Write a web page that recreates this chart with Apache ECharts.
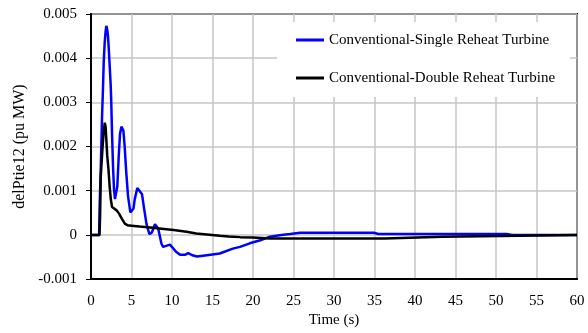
<!DOCTYPE html>
<html>
<head>
<meta charset="utf-8">
<script src="https://cdn.jsdelivr.net/npm/echarts@6/dist/echarts.min.js"></script>
<style>
  html, body { margin: 0; padding: 0; background: #fff; }
  #chart { width: 588px; height: 333px; }
</style>
</head>
<body>
<div id="chart"></div>
<script>
// Tie-line power deviation after a load step, two turbine models
var seriesNames = ['Conventional-Single Reheat Turbine', 'Conventional-Double Reheat Turbine'];

// Single reheat turbine: time (s) and delPtie12 (pu MW)
var singleTime = [0, 1.0, 1.07, 1.2, 1.36, 1.48, 1.57, 1.69, 1.8, 1.89, 2.0, 2.1, 2.22, 2.43, 2.5, 2.6, 2.72, 2.84, 2.96,
  3.1, 3.25, 3.42, 3.58, 3.75, 3.9, 4.0, 4.16, 4.36, 4.57, 4.86, 5.04, 5.25, 5.4, 5.72, 5.95, 6.3, 6.55, 6.85, 7.2,
  7.5, 7.9, 8.3, 8.7, 8.9, 9.75, 10.5, 11.0, 11.6, 12.0, 12.5, 13.1, 14.3, 15.9, 17.5, 18.4, 19.6, 20.9, 22.1, 23.5,
  24.6, 25.8, 34.9, 35.5, 51.3, 52.0, 60];
var singleValue = [0, 0, 0.00066, 0.00147, 0.00265, 0.00332, 0.00391, 0.00435, 0.0046, 0.00473, 0.00465, 0.0045,
  0.00413, 0.00339, 0.00302, 0.00228, 0.00155, 0.00103, 0.00081, 0.00085, 0.0011, 0.00177, 0.00228, 0.00245, 0.00248,
  0.00236, 0.00199, 0.0014, 0.00088, 0.00051, 0.00048, 0.0006, 0.00081, 0.00106, 0.0011, 0.00092, 0.0006, 0.00025,
  0.00002, 0.00005, 0.00024, 0.00014, -0.0002, -0.00027, -0.00022, -0.00038, -0.00045, -0.00045, -0.00041, -0.00046,
  -0.00049, -0.00046, -0.00042, -0.00031, -0.00027, -0.00019, -0.00012, -0.00004, 0, 0.00002, 0.00005, 0.00005,
  0.00002, 0.00002, 0, 0];

// Double reheat turbine: time (s) and delPtie12 (pu MW)
var doubleTime = [0, 1.05, 1.12, 1.2, 1.4, 1.55, 1.7, 1.8, 1.9, 2.0, 2.15, 2.3, 2.45, 2.6, 2.9, 3.2, 3.5, 3.8, 4.2,
  4.5, 5.0, 6.0, 7.3, 9.3, 10.2, 11.8, 13.0, 14.3, 15.9, 17.0, 18.4, 20.0, 21.5, 22.1, 36.3, 36.5, 43.3, 43.5, 60];
var doubleValue = [0, 0, 0.0004, 0.0013, 0.00191, 0.0023, 0.00254, 0.00245, 0.00214, 0.0018, 0.0015, 0.0011, 0.0008,
  0.00063, 0.00059, 0.00055, 0.00047, 0.00037, 0.00025, 0.00022, 0.00021, 0.00019, 0.00017, 0.00013, 0.00011,
  0.00007, 0.00003, 0.00001, -0.00002, -0.000035, -0.00005, -0.00006, -0.000075, -0.00008, -0.00008, -0.00004,
  -0.00004, 0, 0];

// Axis ticks
var xTicks = { min: 0, max: 60, step: 5 };
var yTicks = { min: -0.001, max: 0.005, step: 0.001 };

function pairs(t, v) {
  return t.map(function (x, i) { return [x, v[i]]; });
}

var serif = "'Liberation Serif', 'Times New Roman', serif";
var chart = echarts.init(document.getElementById('chart'), null, { renderer: 'canvas' });

chart.setOption({
  animation: false,
  backgroundColor: '#fff',
  textStyle: { fontFamily: serif },
  grid: {
    left: 91, right: 11, top: 14, bottom: 48,
    show: true, borderColor: '#000', borderWidth: 2, backgroundColor: 'transparent'
  },
  legend: {
    orient: 'vertical',
    left: 277, top: 22,
    padding: [10, 15, 11, 19],
    backgroundColor: '#fff',
    itemWidth: 28, itemHeight: 3, itemGap: 22, itemTextGap: 6,
    icon: 'rect',
    textStyle: { fontFamily: serif, fontSize: 15, color: '#000', lineHeight: 16 },
    data: seriesNames
  },
  xAxis: {
    type: 'value',
    min: xTicks.min, max: xTicks.max, interval: xTicks.step,
    name: 'Time (s)', nameLocation: 'middle', nameGap: 30,
    nameTextStyle: { fontFamily: serif, fontSize: 15, color: '#000' },
    axisLine: { show: true, onZero: false, lineStyle: { color: '#000', width: 2 } },
    axisTick: { show: false },
    axisLabel: { margin: 14, fontFamily: serif, fontSize: 15, color: '#000' },
    splitLine: { show: true, lineStyle: { color: '#c6c6c6', width: 1.5 } }
  },
  yAxis: {
    type: 'value',
    min: yTicks.min, max: yTicks.max, interval: yTicks.step,
    name: 'delPtie12 (pu MW)', nameLocation: 'middle', nameGap: 61, nameRotate: 90,
    nameTextStyle: { fontFamily: serif, fontSize: 16, color: '#000' },
    axisLine: { show: true, onZero: false, lineStyle: { color: '#000', width: 2 } },
    axisTick: { show: true, inside: false, length: 5, lineStyle: { color: '#000', width: 1 } },
    axisLabel: {
      margin: 14, fontFamily: serif, fontSize: 15, color: '#000',
      formatter: function (v) { return Math.abs(v) < 1e-9 ? '0' : v.toFixed(3); }
    },
    splitLine: { show: true, lineStyle: { color: '#c6c6c6', width: 1.5 } }
  },
  series: [
    {
      name: seriesNames[0], type: 'line', showSymbol: false, symbol: 'none',
      color: '#0000ff', lineStyle: { color: '#0000ff', width: 2.5 },
      data: pairs(singleTime, singleValue)
    },
    {
      name: seriesNames[1], type: 'line', showSymbol: false, symbol: 'none',
      color: '#000000', lineStyle: { color: '#000000', width: 2.5 },
      data: pairs(doubleTime, doubleValue)
    }
  ]
});
</script>
</body>
</html>
